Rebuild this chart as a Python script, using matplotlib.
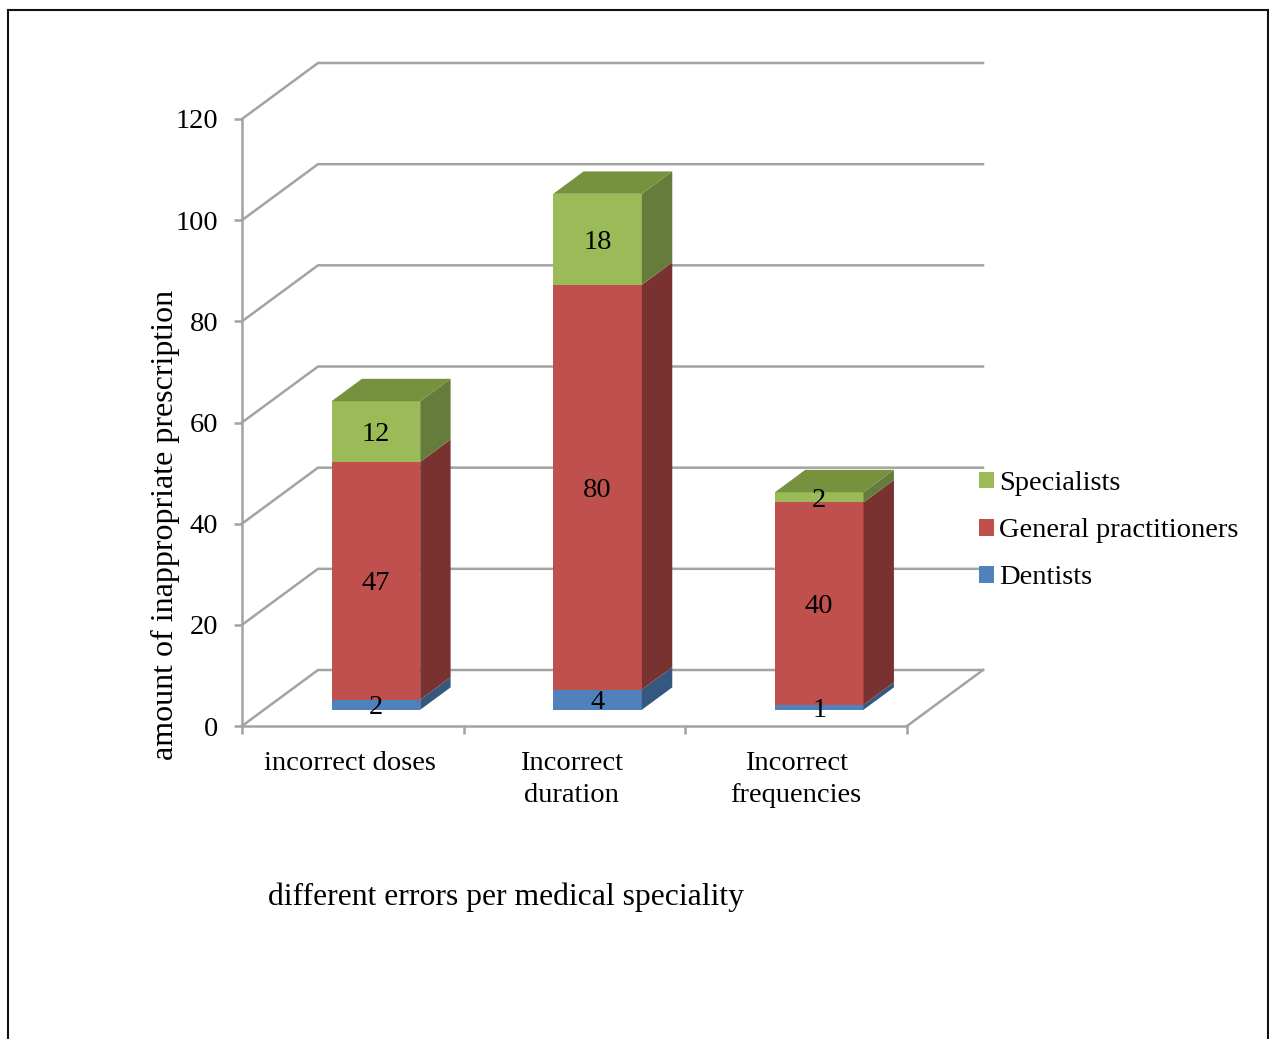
import matplotlib
matplotlib.use("Agg")
import matplotlib.pyplot as plt
from matplotlib.patches import Polygon, Patch
from matplotlib.lines import Line2D

categories = ["incorrect doses", "Incorrect\nduration", "Incorrect\nfrequencies"]
dentists = [2, 4, 1]
general_practitioners = [47, 80, 40]
specialists = [12, 18, 2]
y_ticks = [0, 20, 40, 60, 80, 100, 120]
x_label = "different errors per medical speciality"
y_label = "amount of inappropriate prescription"

W, H = 1269, 1039
plt.rcParams["font.family"] = ["Liberation Serif", "DejaVu Serif"]
FS = 20.5
GRID = "#a3a3a3"

fig = plt.figure(figsize=(W / 100, H / 100), dpi=100, facecolor="white")
L, R, T, B = 242, 907, 119, 726
ax = fig.add_axes([L / W, 1 - B / H, (R - L) / W, (B - T) / H])
ax.set_xlim(0, 3)
ax.set_ylim(0, 120)
ax.patch.set_visible(False)

DX = 76 / ((R - L) / 3)      # depth shift in category units
DY = 56 / ((B - T) / 120)    # depth shift in value units


def proj(x, v, d):
    return (x + d * DX, v + d * DY)


# walls and floor
for v in y_ticks:
    xs = [0, DX, 3 + DX]
    ys = [v, v + DY, v + DY]
    ax.plot(xs, ys, color=GRID, lw=1.8, clip_on=False, zorder=1, solid_joinstyle="miter")
ax.plot([3, 3 + DX], [0, DY], color=GRID, lw=1.8, clip_on=False, zorder=1)

for s in ("top", "right"):
    ax.spines[s].set_visible(False)
for s in ("left", "bottom"):
    ax.spines[s].set_color(GRID)
    ax.spines[s].set_linewidth(1.8)
    ax.spines[s].set_zorder(1)

series = [
    (dentists, "Dentists", "#4f81bd", "#35587f", "#3d6594"),
    (general_practitioners, "General practitioners", "#c0504d", "#7a3230", "#8f3d3a"),
    (specialists, "Specialists", "#9bbb59", "#667c3a", "#77923f"),
]

BW = 0.40
D0, D1 = 0.29, 0.69
LABEL_DROP = 0.6
BAR_SHIFT = 0.0045
for i in range(len(categories)):
    x0 = i + 0.5 - BW / 2 + BAR_SHIFT
    x1 = x0 + BW
    base = 0
    for vals, name, col, side, top in series:
        v = vals[i]
        fx, fy = proj(x0, base, D0)
        ax.bar(fx, v, width=BW, bottom=fy, align="edge", color=col, clip_on=False, zorder=3)
        ax.add_patch(Polygon([proj(x1, base, D0), proj(x1, base, D1),
                              proj(x1, base + v, D1), proj(x1, base + v, D0)],
                             closed=True, fc=side, ec="none", clip_on=False, zorder=3))
        ax.text(fx + BW / 2, fy + v / 2 - LABEL_DROP, str(v), ha="center", va="center",
                fontsize=FS, color="black", zorder=5, clip_on=False)
        base += v
    top_col = series[-1][4]
    ax.add_patch(Polygon([proj(x0, base, D0), proj(x1, base, D0),
                          proj(x1, base, D1), proj(x0, base, D1)],
                         closed=True, fc=top_col, ec="none", clip_on=False, zorder=3))

ax.set_yticks(y_ticks)
ax.set_xticks([0, 1, 2, 3])
ax.set_xticklabels([])
ax.set_xticks([0.485, 1.485, 2.5], labels=categories, minor=True)
ax.tick_params(axis="y", length=6, width=1.8, color=GRID, labelsize=FS, pad=11)
ax.tick_params(axis="x", which="major", length=6, width=1.8, color=GRID)
ax.tick_params(axis="x", which="minor", length=0, labelsize=FS, pad=18)
for lab in ax.get_xticklabels(minor=True):
    lab.set_linespacing(1.35)

ax.set_xlabel(x_label, fontsize=22.8)
ax.xaxis.set_label_coords((506 - L) / (R - L), -(897 - B) / (B - T), transform=ax.transAxes)
ax.xaxis.label.set_va("center")
ax.set_ylabel(y_label, fontsize=23)
ax.yaxis.set_label_coords((165 - L) / (R - L), (B - 525) / (B - T), transform=ax.transAxes)
ax.yaxis.label.set_va("center")

handles = [Patch(fc=c, ec="none", label=n) for _, n, c, _, _ in reversed(series)]
fig.legend(handles=handles, loc="upper left", bbox_to_anchor=(967.6 / W, 1 - 459.6 / H),
           frameon=False, fontsize=FS, handlelength=0.53, handleheight=0.53,
           handletextpad=0.18, labelspacing=0.78, borderpad=0.4, borderaxespad=0)

# page frame
for xs, ys in [([8, 8], [1039, 10]), ([8, 1268], [10, 10]), ([1268, 1268], [10, 1039])]:
    fig.add_artist(Line2D([x / W for x in xs], [1 - y / H for y in ys],
                          color="#111111", lw=1.5, solid_capstyle="projecting"))

fig.savefig("out.png", dpi=100, facecolor="white")
